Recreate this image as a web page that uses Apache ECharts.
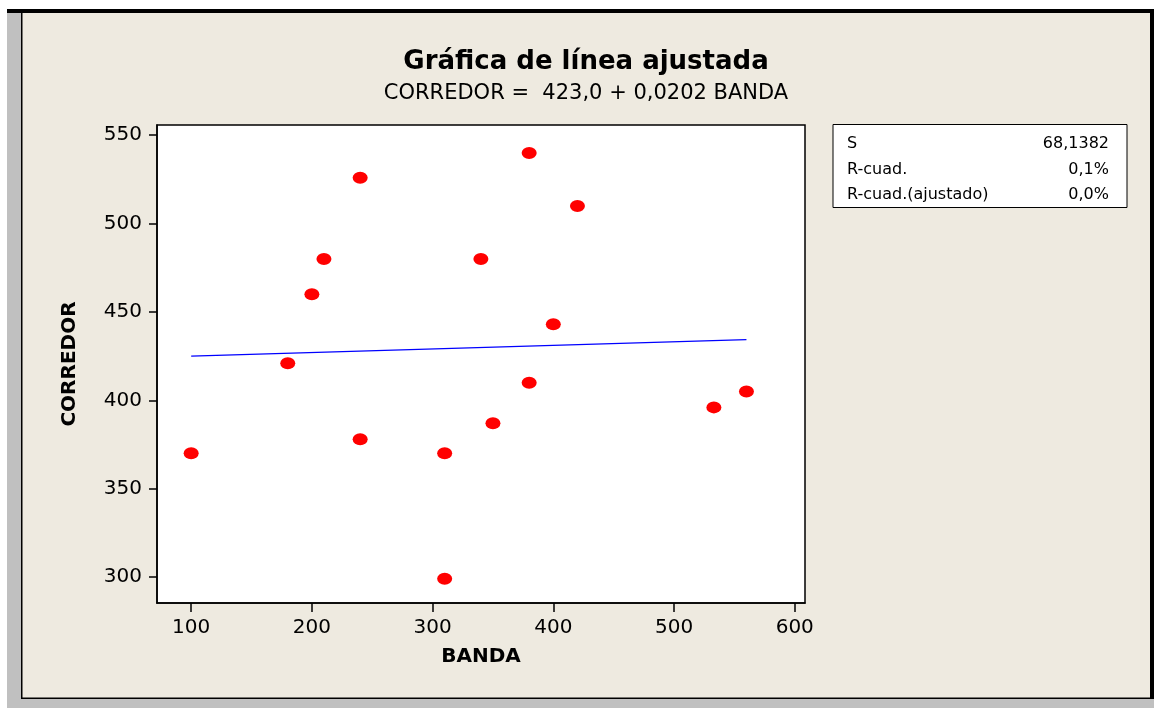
<!DOCTYPE html>
<html>
<head>
<meta charset="utf-8">
<script src="https://cdn.jsdelivr.net/npm/echarts@6/dist/echarts.min.js"></script>
<style>
  html, body { margin: 0; padding: 0; background: #fff; }
  #chart { width: 1154px; height: 708px; }
</style>
</head>
<body>
<div id="chart"></div>
<script>
// Observations: BANDA (x) and CORREDOR (y)
const banda    = [100, 180, 200, 210, 240, 240, 310, 310, 340, 350, 380, 380, 400, 420, 533, 560];
const corredor = [370, 421, 460, 480, 526, 378, 370, 299, 480, 387, 540, 410, 443, 510, 396, 405];

// Fitted regression line: CORREDOR = 423,0 + 0,0202 BANDA
const intercept = 423.0;
const slope = 0.0202;
const fitRange = [100, 560];

const xTicks = [100, 200, 300, 400, 500, 600];
const yTicks = [300, 350, 400, 450, 500, 550];

const statLabels = ['S', 'R-cuad.', 'R-cuad.(ajustado)'];
const statValues = ['68,1382', '0,1%', '0,0%'];

const titleText = 'Gráfica de línea ajustada';
const subText = 'CORREDOR =  423,0 + 0,0202 BANDA';

const FONT = '"DejaVu Sans", Verdana, sans-serif';

const points = banda.map((b, i) => [b, corredor[i]]);
const fitLine = fitRange.map(x => [x, intercept + slope * x]);

// Summary table drawn beside the plot
const statsGraphics = [{
  type: 'rect',
  shape: { x: 833, y: 124.5, width: 294, height: 83 },
  style: { fill: '#fff', stroke: '#000', lineWidth: 1 }
}];
statLabels.forEach((lab, i) => {
  const y = 144 + i * 25.5;
  statsGraphics.push({
    type: 'text', x: 847, y: y,
    style: { text: lab, font: '16px ' + FONT, fill: '#000', textAlign: 'left', textVerticalAlign: 'middle' }
  });
  statsGraphics.push({
    type: 'text', x: 1109, y: y,
    style: { text: statValues[i], font: '16px ' + FONT, fill: '#000', textAlign: 'right', textVerticalAlign: 'middle' }
  });
});

// Window frame around the chart panel
const frameGraphics = [
  { type: 'rect', shape: { x: 0, y: 0, width: 1154, height: 9 }, style: { fill: '#fff' } },
  { type: 'rect', shape: { x: 0, y: 0, width: 7, height: 708 }, style: { fill: '#fff' } },
  { type: 'rect', shape: { x: 7, y: 13, width: 14, height: 695 }, style: { fill: '#c0c0c0' } },
  { type: 'rect', shape: { x: 7, y: 699, width: 1147, height: 9 }, style: { fill: '#c0c0c0' } },
  { type: 'rect', shape: { x: 7, y: 9, width: 1147, height: 4 }, style: { fill: '#000' } },
  { type: 'rect', shape: { x: 21, y: 13, width: 1.5, height: 686 }, style: { fill: '#000' } },
  { type: 'rect', shape: { x: 21, y: 697.5, width: 1129, height: 1.5 }, style: { fill: '#000' } },
  { type: 'rect', shape: { x: 1150, y: 9, width: 4, height: 690 }, style: { fill: '#000' } }
];

const titleGraphics = [
  { type: 'text', x: 586, y: 62,
    style: { text: titleText, font: 'bold 26px ' + FONT, fill: '#000', textAlign: 'center', textVerticalAlign: 'middle' } },
  { type: 'text', x: 586, y: 94,
    style: { text: subText, font: '21px ' + FONT, fill: '#000', textAlign: 'center', textVerticalAlign: 'middle' } }
];

const chart = echarts.init(document.getElementById('chart'), null, { renderer: 'canvas' });
chart.setOption({
  backgroundColor: '#eeeae0',
  animation: false,
  textStyle: { fontFamily: FONT },
  graphic: [].concat(frameGraphics, titleGraphics, statsGraphics),
  grid: {
    left: 157, top: 125, width: 648, height: 478,
    show: true, backgroundColor: '#fff', borderColor: '#000', borderWidth: 1.5
  },
  xAxis: {
    type: 'value', min: 71.7, max: 608.5,
    name: 'BANDA', nameLocation: 'middle', nameGap: 44,
    nameTextStyle: { fontFamily: FONT, fontWeight: 'bold', fontSize: 20, color: '#000' },
    axisLine: { show: true, lineStyle: { color: '#000', width: 1.5 } },
    axisTick: { show: true, length: 9, customValues: xTicks, lineStyle: { color: '#000', width: 1.5 } },
    axisLabel: { customValues: xTicks, margin: 15, fontSize: 20, color: '#000', fontFamily: FONT },
    splitLine: { show: false }
  },
  yAxis: {
    type: 'value', min: 285.3, max: 555.8,
    name: 'CORREDOR', nameLocation: 'middle', nameGap: 77,
    nameTextStyle: { fontFamily: FONT, fontWeight: 'bold', fontSize: 20, color: '#000' },
    axisLine: { show: true, lineStyle: { color: '#000', width: 1.5 } },
    axisTick: { show: true, length: 8, customValues: yTicks, lineStyle: { color: '#000', width: 1.5 } },
    axisLabel: { customValues: yTicks, margin: 15, fontSize: 20, color: '#000', fontFamily: FONT },
    splitLine: { show: false }
  },
  series: [
    {
      type: 'line', data: fitLine, showSymbol: false, symbol: 'none',
      lineStyle: { color: '#0000ff', width: 1.2 }, z: 2, silent: true
    },
    {
      type: 'scatter', data: points, symbol: 'circle', symbolSize: [15, 12],
      itemStyle: { color: '#ff0000', opacity: 1 }, z: 3
    }
  ]
});
</script>
</body>
</html>
